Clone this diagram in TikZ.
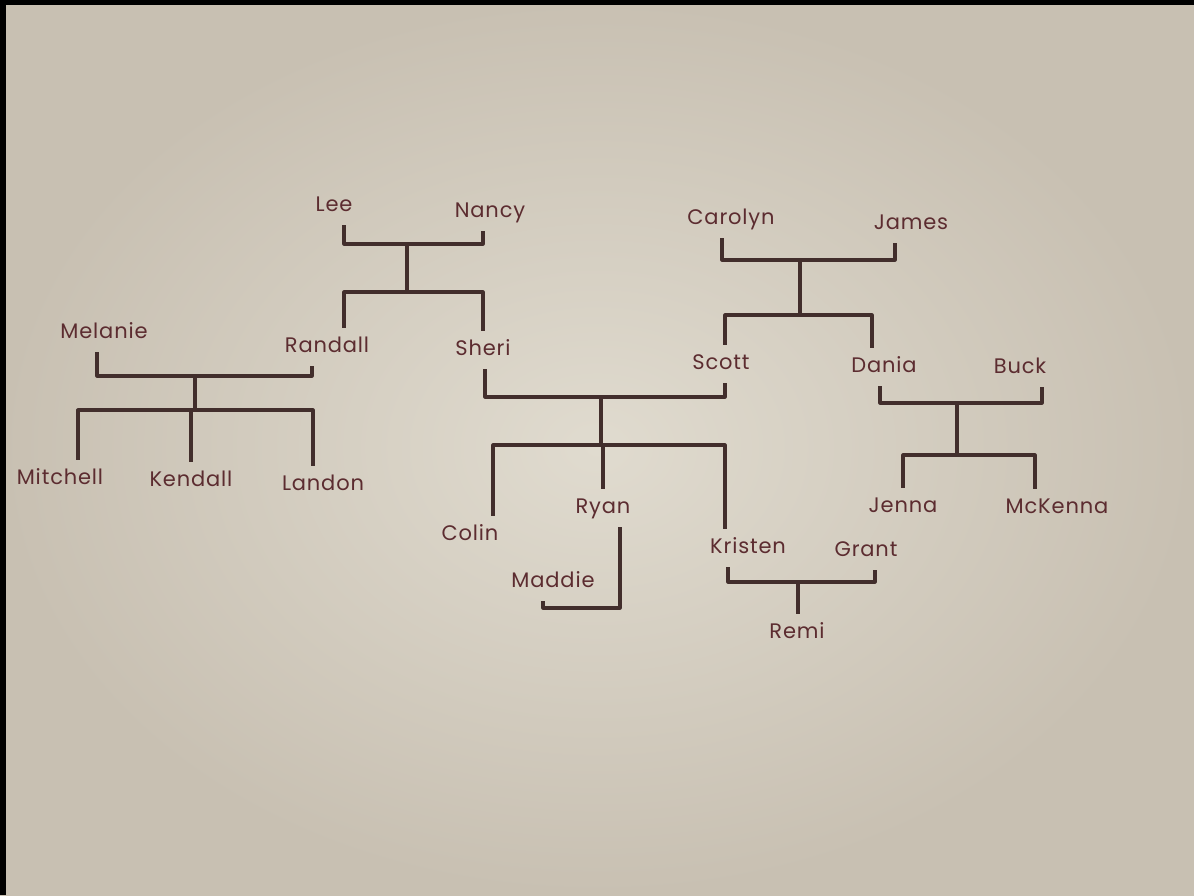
\documentclass[tikz,border=0pt]{standalone}
\usepackage{fontspec}
\setmainfont{Poppins}[LetterSpace=4]
\usetikzlibrary{positioning}

\definecolor{paper}{RGB}{224,219,207}
\definecolor{paperdark}{RGB}{200,192,178}
\definecolor{ink}{RGB}{66,46,44}
\definecolor{pen}{RGB}{92,44,48}

\begin{document}
\begin{tikzpicture}[x=1pt, y=-1pt, line width=3.2pt, line join=round, draw=ink,
  person/.style={text=pen, font=\fontsize{21}{24}\selectfont, inner xsep=2pt, inner ysep=8pt, text height=15pt, text depth=4pt}]

  % paper
  \shade[inner color=paper, outer color=paperdark] (0,0) rectangle (1194,895);
  \fill[black] (0,0) rectangle (6,895);
  \fill[black] (0,0) rectangle (1194,5);
  \useasboundingbox (0,0) rectangle (1194,895);

  \node[person] (lee)      at (334,206)  {Lee};
  \node[person] (nancy)    at (490,212)  {Nancy};
  \node[person] (carolyn)  at (731,219)  {Carolyn};
  \node[person] (james)    at (911,224)  {James};
  \node[person] (melanie)  at (104,333)  {Melanie};
  \node[person] (randall)  at (327,347)  {Randall};
  \node[person] (sheri)    at (483,350)  {Sheri};
  \node[person] (scott)    at (721,364)  {Scott};
  \node[person] (dania)    at (884,367)  {Dania};
  \node[person] (buck)     at (1020,368) {Buck};
  \node[person] (mitchell) at (60,479)   {Mitchell};
  \node[person] (kendall)  at (191,481)  {Kendall};
  \node[person] (landon)   at (323,485)  {Landon};
  \node[person] (colin)    at (470,535)  {Colin};
  \node[person] (ryan)     at (603,508)  {Ryan};
  \node[person] (maddie)   at (553,582)  {Maddie};
  \node[person] (kristen)  at (748,548)  {Kristen};
  \node[person] (grant)    at (866,551)  {Grant};
  \node[person] (jenna)    at (903,507)  {Jenna};
  \node[person] (mckenna)  at (1057,508) {McKenna};
  \node[person] (remi)     at (797,633)  {Remi};

  % Lee & Nancy
  \coordinate (ln)  at (407,244);
  \coordinate (lnk) at (407,292);
  \draw ([xshift=10]lee.south) |- (ln) -| ([xshift=-7]nancy.south);
  \draw (ln) -- (lnk);
  \draw ([xshift=17]randall.north) |- (lnk) -| (sheri.north);

  % Carolyn & James
  \coordinate (cj)  at (800,260);
  \coordinate (cjk) at (800,315);
  \draw ([xshift=-9]carolyn.south) |- (cj) -| ([xshift=-16]james.south);
  \draw (cj) -- (cjk);
  \draw ([xshift=4]scott.north) |- (cjk) -| ([xshift=-12]dania.north);

  % Melanie & Randall
  \coordinate (mr)  at (195,376);
  \coordinate (mrk) at (195,410);
  \draw ([xshift=-7]melanie.south) |- (mr) -| ([xshift=-15]randall.south);
  \draw (mr) -- (mrk);
  \draw ([xshift=18]mitchell.north) |- (mrk) -| ([xshift=-10]landon.north);
  \draw (kendall.north) -- (kendall.north |- mrk);

  % Sheri & Scott
  \coordinate (ss)  at (601,397);
  \coordinate (ssk) at (601,445);
  \draw ([xshift=2]sheri.south) |- (ss) -| ([xshift=4]scott.south);
  \draw (ss) -- (ssk);
  \draw ([xshift=23]colin.north) |- (ssk) -| ([xshift=-23]kristen.north);
  \draw (ryan.north) -- (ryan.north |- ssk);

  % Ryan & Maddie
  \coordinate (rm) at (582,608);
  \draw ([xshift=17]ryan.south) |- (rm) -| ([xshift=-10]maddie.south);

  % Dania & Buck
  \coordinate (db)  at (957,403);
  \coordinate (dbk) at (957,455);
  \draw ([xshift=-4]dania.south) |- (db) -| ([xshift=22]buck.south);
  \draw (db) -- (dbk);
  \draw (jenna.north) |- (dbk) -| ([xshift=-22]mckenna.north);

  % Kristen & Grant
  \coordinate (kg) at (798,582);
  \draw ([xshift=-20]kristen.south) |- (kg) -| ([xshift=9]grant.south);
  \draw (kg) -- (kg |- remi.north);

\end{tikzpicture}
\end{document}
